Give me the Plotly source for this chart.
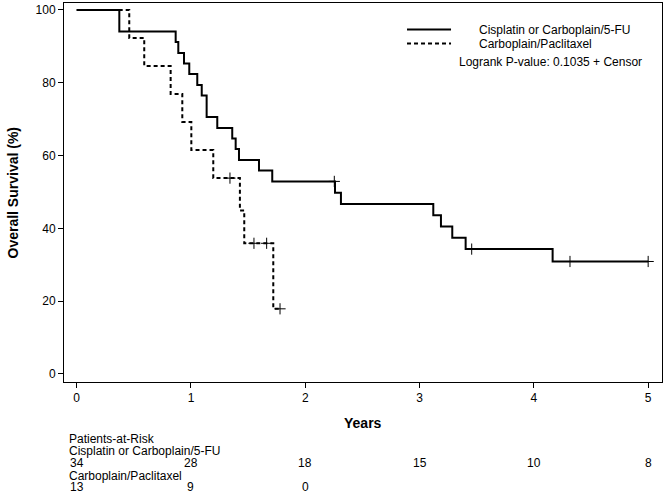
import plotly.graph_objects as go

# ---- data ----
cis_times = [0, 0.373, 0.866, 0.889, 0.939, 0.985, 1.055, 1.094, 1.137, 1.230, 1.361,
             1.391, 1.420, 1.595, 1.711, 2.260, 2.312, 3.120, 3.187, 3.286, 3.403, 4.164, 5.0]
cis_surv = [100, 94.1, 91.2, 88.2, 85.3, 82.4, 79.4, 76.5, 70.6, 67.6, 64.7,
            61.8, 58.8, 55.9, 52.9, 49.8, 46.7, 43.6, 40.5, 37.4, 34.3, 30.9, 30.9]
cis_cens_t = [2.254, 3.456, 4.316, 5.0]
cis_cens_s = [52.9, 34.3, 30.9, 30.9]

pac_times = [0, 0.460, 0.591, 0.822, 0.924, 1.003, 1.195, 1.428, 1.466, 1.720, 1.779]
pac_surv = [100, 92.3, 84.6, 76.9, 69.2, 61.5, 53.8, 44.9, 35.9, 17.9, 17.9]
pac_cens_t = [1.341, 1.551, 1.662, 1.779]
pac_cens_s = [53.8, 35.9, 35.9, 17.9]

risk_times = [0, 1, 2, 3, 4, 5]
risk_cis = ["34", "28", "18", "15", "10", "8"]
risk_pac = ["13", "9", "0", "", "", ""]

x_ticks = [0, 1, 2, 3, 4, 5]
y_ticks = [0, 20, 40, 60, 80, 100]

FONT = "Liberation Sans, Arial, sans-serif"
fs = 12

fig = go.Figure()
fig.add_trace(go.Scatter(x=cis_times, y=cis_surv, mode="lines", line_shape="hv",
                         line=dict(color="black", width=2), showlegend=False))
fig.add_trace(go.Scatter(x=pac_times, y=pac_surv, mode="lines", line_shape="hv",
                         line=dict(color="black", width=2, dash="4px,3px"), showlegend=False))
fig.add_trace(go.Scatter(x=cis_cens_t, y=cis_cens_s, mode="markers",
                         marker=dict(symbol="cross-thin", size=8, line=dict(color="black", width=1)),
                         showlegend=False))
fig.add_trace(go.Scatter(x=pac_cens_t, y=pac_cens_s, mode="markers",
                         marker=dict(symbol="cross-thin", size=8, line=dict(color="black", width=1)),
                         showlegend=False))

annotations = []
# legend (manual)
shapes = [
    dict(type="line", xref="paper", yref="paper", x0=0.5736, x1=0.6472, y0=0.930, y1=0.930,
         line=dict(color="black", width=2)),
    dict(type="line", xref="paper", yref="paper", x0=0.5736, x1=0.6472, y0=0.893, y1=0.893,
         line=dict(color="black", width=2, dash="4px,3px")),
]
annotations += [
    dict(text="Cisplatin or Carboplain/5-FU", xref="paper", yref="paper", x=0.6906, y=0.930,
         xanchor="left", yanchor="middle", showarrow=False, font=dict(size=fs)),
    dict(text="Carboplain/Paclitaxel", xref="paper", yref="paper", x=0.6906, y=0.893,
         xanchor="left", yanchor="middle", showarrow=False, font=dict(size=fs)),
    dict(text="Logrank P-value: 0.1035 + Censor", xref="paper", yref="paper", x=0.657, y=0.844,
         xanchor="left", yanchor="middle", showarrow=False, font=dict(size=fs)),
]
# axis titles
annotations += [
    dict(text="<b>Years</b>", xref="paper", yref="paper", x=0.5, y=-0.108,
         xanchor="center", yanchor="middle", showarrow=False, font=dict(size=14)),
    dict(text="<b>Overall Survival (%)</b>", xref="paper", yref="paper", x=-0.0853, y=0.5,
         xanchor="center", yanchor="middle", textangle=-90, showarrow=False, font=dict(size=14)),
]
# patients-at-risk table
for txt, yy in [("Patients-at-Risk", -0.150), ("Cisplatin or Carboplain/5-FU", -0.182),
                ("Carboplain/Paclitaxel", -0.247)]:
    annotations.append(dict(text=txt, xref="paper", yref="paper", x=0.0055, y=yy,
                            xanchor="left", yanchor="middle", showarrow=False, font=dict(size=fs)))
for t, v in zip(risk_times, risk_cis):
    annotations.append(dict(text=v, xref="x", yref="paper", x=t, y=-0.213,
                            xanchor="center", yanchor="middle", showarrow=False, font=dict(size=fs)))
for t, v in zip(risk_times, risk_pac):
    if v:
        annotations.append(dict(text=v, xref="x", yref="paper", x=t, y=-0.278,
                                xanchor="center", yanchor="middle", showarrow=False, font=dict(size=fs)))

fig.update_layout(
    width=663, height=495,
    margin=dict(l=64, r=1, t=3, b=113),
    paper_bgcolor="white", plot_bgcolor="white",
    font=dict(family=FONT, size=fs, color="black"),
    showlegend=False,
    shapes=shapes,
    annotations=annotations,
    xaxis=dict(range=[-0.111, 5.121], tickvals=x_ticks, ticks="outside", ticklen=5,
               tickcolor="black", showgrid=False, zeroline=False, showline=True,
               linecolor="black", linewidth=1, mirror=True, tickfont=dict(size=fs)),
    yaxis=dict(range=[-2.2, 101.9], tickvals=y_ticks, ticks="outside", ticklen=5,
               tickcolor="black", showgrid=False, zeroline=False, showline=True,
               linecolor="black", linewidth=1, mirror=True, tickfont=dict(size=fs)),
)

fig.write_html("out.html", config={"displayModeBar": False},
               post_script="document.body.style.margin='0';document.body.style.overflow='hidden';")
